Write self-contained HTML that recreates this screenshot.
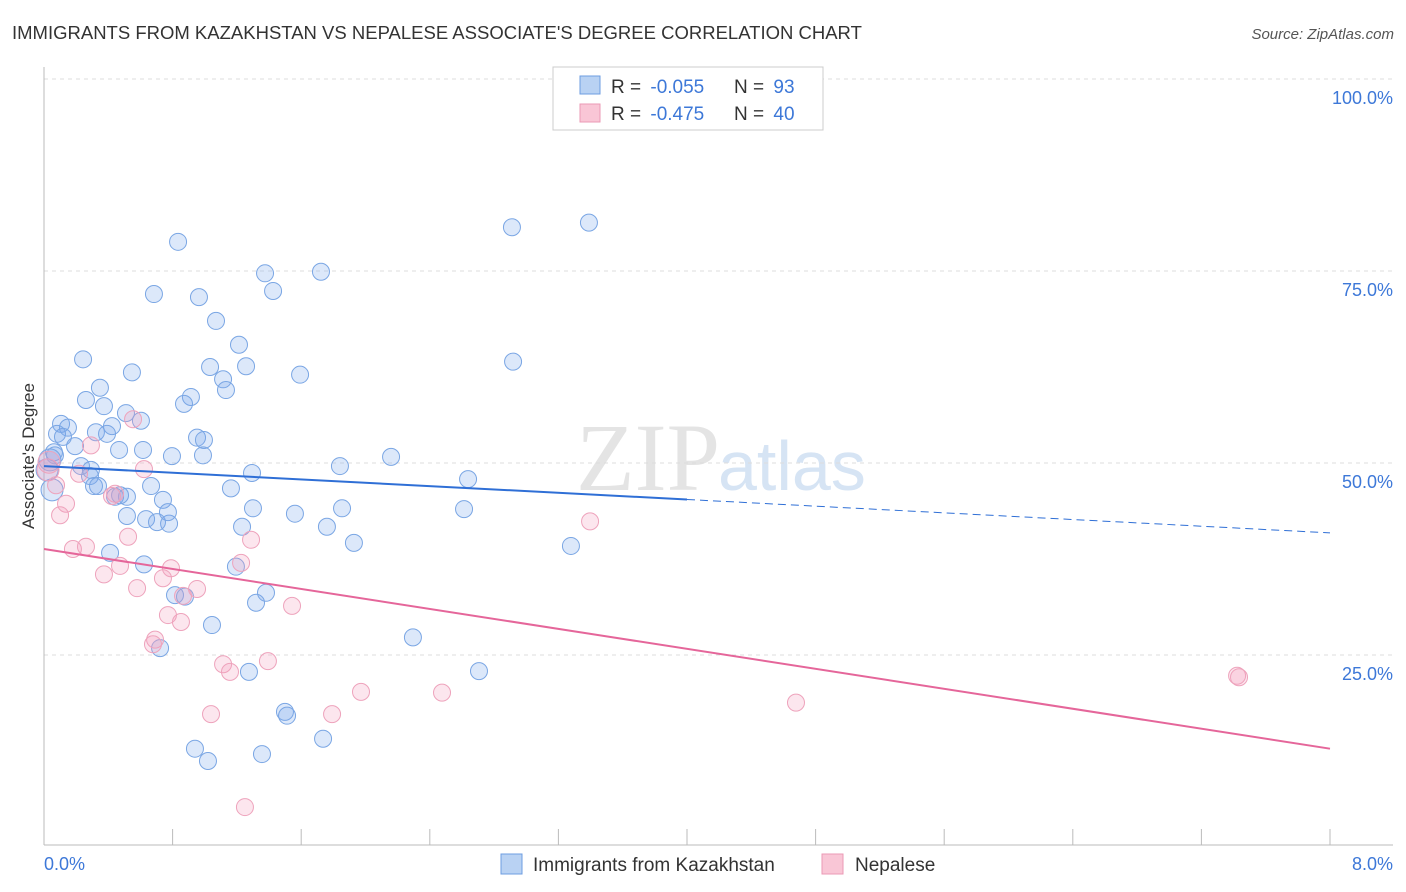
<!DOCTYPE html>
<html><head><meta charset="utf-8"><style>
body{margin:0;background:#fff;font-family:"Liberation Sans",sans-serif;}
svg{display:block}
</style></head><body>
<svg id="chart" width="1406" height="892">
<text x="12" y="39" font-size="18.5" fill="#333">IMMIGRANTS FROM KAZAKHSTAN VS NEPALESE ASSOCIATE'S DEGREE CORRELATION CHART</text>
<text x="1394" y="39" font-size="15" fill="#555" font-style="italic" text-anchor="end">Source: ZipAtlas.com</text>
<text x="720" y="490" font-size="96" font-family="Liberation Serif" fill="#e4e4e4" text-anchor="end">ZIP</text>
<text x="718" y="490" font-size="70" fill="#d6e4f4">atlas</text>
<g id="grid"></g>
<g id="axes"></g>
<g id="points"></g>
<g id="trends"></g>
<text transform="translate(34,456) rotate(-90)" font-size="17" fill="#333" text-anchor="middle">Associate's Degree</text>
<g>
<rect x="553" y="67" width="270" height="63" fill="#fff" stroke="#ccc"/>
<rect x="580" y="76" width="20" height="18" fill="#b9d2f3" stroke="#6d9de0"/>
<rect x="580" y="104" width="20" height="18" fill="#f9c6d6" stroke="#eb9ab5"/>
<text x="611" y="93" font-size="19" fill="#333">R = <tspan dx="4" fill="#3d78d8">-0.055</tspan></text>
<text x="734" y="93" font-size="19" fill="#333">N = <tspan dx="4" fill="#3d78d8"> 93</tspan></text>
<text x="611" y="120" font-size="19" fill="#333">R = <tspan dx="4" fill="#3d78d8">-0.475</tspan></text>
<text x="734" y="120" font-size="19" fill="#333">N = <tspan dx="4" fill="#3d78d8">40</tspan></text>
</g>
<g>
<rect x="501" y="854" width="21" height="20" fill="#b9d2f3" stroke="#6d9de0"/>
<text x="533" y="871" font-size="19" fill="#333">Immigrants from Kazakhstan</text>
<rect x="822" y="854" width="21" height="20" fill="#f9c6d6" stroke="#eb9ab5"/>
<text x="855" y="871" font-size="19" fill="#333">Nepalese</text>
</g>
</svg>
<script>
const xTicks=[0,0.8,1.6,2.4,3.2,4,4.8,5.6,6.4,7.2,8];
const yTicks=[25,50,75,100];
const yTickLabels=["25.0%","50.0%","75.0%","100.0%"];
const xEndLabels=["0.0%","8.0%"];
const blueX=[0.834,2.911,3.390,0.684,0.964,1.375,1.723,1.425,1.070,1.213,0.243,0.547,1.033,1.257,1.593,2.918,1.114,1.132,0.348,0.914,0.871,0.261,0.373,0.510,0.603,0.423,0.106,0.149,0.081,0.323,0.392,0.062,0.193,0.467,0.616,0.952,0.995,0.796,0.989,2.159,1.841,0.230,0.292,0.286,1.294,2.638,0.311,0.516,0.442,0.666,0.740,1.163,1.300,1.854,1.561,2.613,0.516,0.635,0.703,0.778,0.771,1.232,1.760,1.928,0.411,3.278,0.622,1.194,1.381,0.815,0.877,1.319,1.045,2.295,0.722,1.275,2.706,1.499,1.512,1.736,0.939,1.356,1.020,0.037,0.050,0.019,0.118,0.068,0.473,0.336];
const blueY=[78.8,80.7,81.3,72.0,71.6,74.7,74.9,72.4,68.5,65.4,63.5,61.8,62.5,62.6,61.5,63.2,60.9,59.5,59.8,58.6,57.7,58.2,57.4,56.5,55.5,54.8,55.1,54.6,53.8,54.0,53.8,51.4,52.2,51.7,51.7,53.3,53.0,50.9,51.0,50.8,49.6,49.6,49.1,48.3,48.7,47.9,47.0,45.6,45.6,47.0,45.2,46.7,44.1,44.1,43.4,44.0,43.1,42.7,42.3,42.1,43.6,41.7,41.7,39.6,38.3,39.2,36.8,36.5,33.1,32.8,32.6,31.8,28.9,27.3,25.9,22.8,22.9,17.6,17.1,14.1,12.8,12.1,11.2,50.4,46.5,49.1,53.4,51.0,45.8,47.0];
const pinkX=[0.554,0.292,0.622,0.218,0.442,0.025,0.075,0.137,0.100,0.423,0.523,1.288,3.397,0.180,0.261,0.373,0.473,0.790,0.740,1.226,0.579,0.952,0.865,1.543,0.771,0.852,0.691,0.678,1.393,1.114,1.157,1.972,2.476,1.039,1.792,4.678,7.422,7.434,1.250,0.031];
const pinkY=[55.7,52.3,49.2,48.6,46.0,49.1,47.1,44.7,43.2,45.7,40.4,40.0,42.4,38.8,39.1,35.5,36.6,36.3,35.0,37.0,33.7,33.6,32.7,31.4,30.2,29.3,27.0,26.4,24.2,23.8,22.8,20.2,20.1,17.3,17.3,18.8,22.3,22.1,5.2,50.1];
const blueTrend=[49.6,40.9];
const pinkTrend=[38.8,12.8];
const NS="http://www.w3.org/2000/svg";
const X=v=>44+v/8*1286, Y=v=>847-v*7.68;
function mk(tag,attrs,parent){const e=document.createElementNS(NS,tag);for(const k in attrs)e.setAttribute(k,attrs[k]);document.getElementById(parent).appendChild(e);return e;}
yTicks.forEach((t,i)=>{
 const g=mk('line',{x1:44,x2:1393,y1:Y(t),y2:Y(t),stroke:'#ddd','stroke-dasharray':'4,4'},'grid');
 
 
 const l=mk('text',{x:1393,y:Y(t)+25,'font-size':18,fill:'#3d78d8','text-anchor':'end'},'axes');
 l.textContent=yTickLabels[i];
 
 
});
const ya=mk('line',{x1:44,x2:44,y1:67,y2:845,stroke:'#bbb'},'axes');


const xa=mk('line',{x1:44,x2:1393,y1:845,y2:845,stroke:'#bbb'},'axes');


xTicks.forEach(t=>{
 const tk=mk('line',{x1:X(t),x2:X(t),y1:829,y2:845,stroke:'#bbb'},'axes');
 
 
});
[[0,'start',44],[8,'end',1393]].forEach((d,i)=>{
 const l=mk('text',{x:d[2],y:870,'font-size':18,fill:'#3d78d8','text-anchor':d[1]},'axes');
 l.textContent=xEndLabels[i];
 
 
});
function pts(xs,ys,fill,stroke,name){
 xs.forEach((x,i)=>{
  const c=mk('circle',{cx:X(x),cy:Y(ys[i]),r:(x<0.06?11:8.5),fill:fill,stroke:stroke,'stroke-width':1},'points');
  
  
 });
}
pts(blueX,blueY,'rgba(120,165,235,0.26)','#7aa6e4','kazakhstan-point');
pts(pinkX,pinkY,'rgba(245,160,190,0.26)','#eea3bc','nepalese-point');
const bm=blueTrend[0]+(blueTrend[1]-blueTrend[0])*0.5;
const b1=mk('line',{x1:X(0),y1:Y(blueTrend[0]),x2:X(4),y2:Y(bm),stroke:'#2f6fd6','stroke-width':2},'trends');


const b2=mk('line',{x1:X(4),y1:Y(bm),x2:X(8),y2:Y(blueTrend[1]),stroke:'#2f6fd6','stroke-width':1,'stroke-dasharray':'8,5'},'trends');


const p1=mk('line',{x1:X(0),y1:Y(pinkTrend[0]),x2:X(8),y2:Y(pinkTrend[1]),stroke:'#e5669a','stroke-width':2},'trends');


</script>
</body></html>
